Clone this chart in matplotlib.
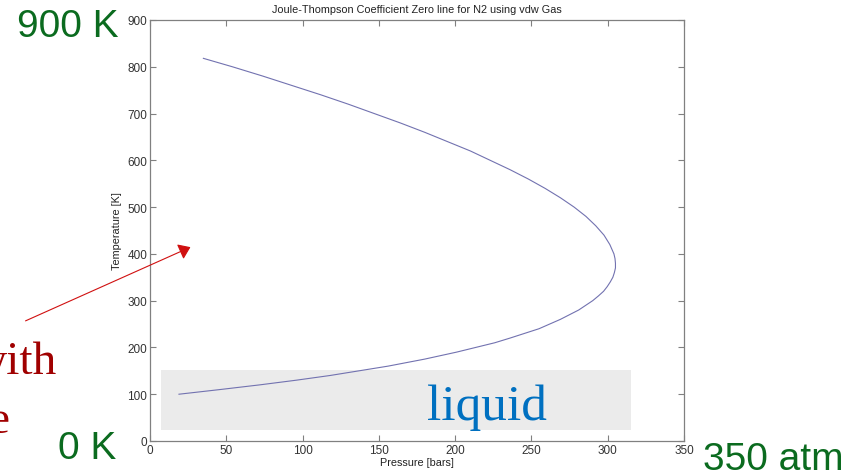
import matplotlib
matplotlib.use('Agg')
import matplotlib.pyplot as plt
from matplotlib.patches import Rectangle, FancyArrowPatch

# JT inversion curve for N2 (vdw)
pressure = [35, 54, 74, 93, 112, 130, 147, 164, 180, 195, 210, 223, 236, 248, 259,
            269, 278, 285.8, 292.2, 297.6, 301.4, 304.1, 304.8, 305.1, 305.1, 304.4,
            303.4, 301.7, 299.7, 297.3, 293.9, 290.2, 281, 269, 255, 236, 226, 201,
            180, 156, 118, 96, 72, 46, 19]
temperature = [818, 800, 780, 760, 740, 720, 700, 680, 660, 640, 620, 600, 580, 560, 540,
               520, 500, 480, 460, 440, 420, 400, 390, 380, 370, 360,
               350, 340, 330, 320, 310, 300, 280, 260, 240, 220, 210, 190,
               175, 160, 140, 130, 120, 110, 100]

xticks = [0, 50, 100, 150, 200, 250, 300, 350]
yticks = [0, 100, 200, 300, 400, 500, 600, 700, 800, 900]

plt.rcParams['font.family'] = ['Liberation Sans', 'DejaVu Sans']

fig = plt.figure(figsize=(8.65, 4.77), dpi=100)
ax = fig.add_axes([0.1734, 0.0734, 0.6173, 0.8826])

# grey box behind the lower branch
ax.add_patch(Rectangle((0.0206, 0.026), 0.880, 0.1425, transform=ax.transAxes,
                       facecolor='#ebebeb', edgecolor='none', zorder=1))
ax.text(0.631, 0.052, 'liquid', transform=ax.transAxes, ha='center', va='baseline',
        fontsize=37, color='#0070c0', family=['Liberation Serif', 'DejaVu Serif'], zorder=3)

ax.plot(pressure, temperature, color='#7272b0', lw=0.8, zorder=2)

ax.set_xlim(0, 350)
ax.set_ylim(0, 900)
ax.set_xticks(xticks)
ax.set_yticks(yticks)
ax.tick_params(direction='in', top=True, right=True, length=4, width=0.8,
               labelsize=8.5, colors='#808080', labelcolor='#333333', pad=2)
for s in ax.spines.values():
    s.set_color('#808080')
    s.set_linewidth(0.9)

ax.set_title('Joule-Thompson Coefficient Zero line for N2 using vdw Gas',
             fontsize=7.8, color='#222222', pad=6)
ax.set_xlabel('Pressure [bars]', fontsize=7.8, color='#222222', labelpad=1)
ax.set_ylabel('Temperature [K]', fontsize=7.8, color='#222222', labelpad=4)

# slide annotations
green = '#0b6b1f'
fig.text(17 / 865, 1 - 37 / 477, '900 K', fontsize=28, color=green, va='baseline')
fig.text(58 / 865, 1 - 459 / 477, '0 K', fontsize=28, color=green, va='baseline')
fig.text(703 / 865, 1 - 470 / 477, '350 atm', fontsize=28, color=green, va='baseline')

serif = ['Liberation Serif', 'DejaVu Serif']
fig.text(57 / 865, 1 - 374 / 477, 'with', fontsize=34, color='#a00000',
         ha='right', va='baseline', family=serif)
fig.text(9 / 865, 1 - 433 / 477, 'e', fontsize=34, color='#a00000',
         ha='right', va='baseline', family=serif)

fig.patches.append(FancyArrowPatch(
    (23 / 865, 1 - 323 / 477), (193 / 865, 1 - 247 / 477),
    transform=fig.transFigure, arrowstyle='-|>,head_length=7,head_width=5',
    color='#d01010', lw=0.8, zorder=5))

fig.savefig('out.png', dpi=100)
